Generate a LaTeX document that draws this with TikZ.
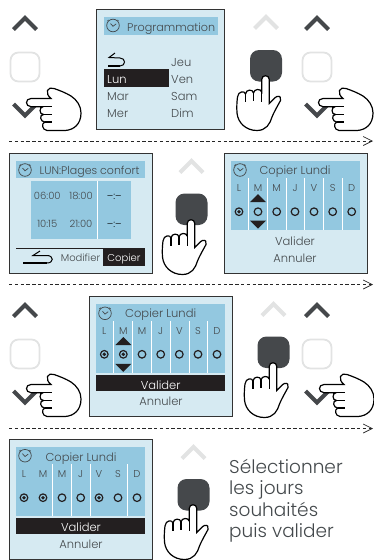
\documentclass[tikz,border=0pt]{standalone}
\usepackage{fontspec}
\setmainfont{Poppins Light}
\usetikzlibrary{arrows.meta}
\definecolor{scr}{HTML}{D6EAF2}
\definecolor{hdr}{HTML}{93C8E0}
\definecolor{ink}{HTML}{44494C}
\definecolor{btn}{HTML}{45484B}
\definecolor{pale}{HTML}{E2E3E3}
\definecolor{bar}{HTML}{231F20}
\tikzset{
  screen/.style={draw=black!80,line width=0.9pt,fill=scr},
  hdrbox/.style={fill=hdr},
  barbox/.style={fill=bar},
  lbl/.style={inner sep=0pt,text=ink,text height=8pt,text depth=0pt,font=\fontsize{11.5}{13}\selectfont},
  lblw/.style={lbl,text=white},
  lblsmall/.style={lbl,text height=7pt,font=\fontsize{10}{12}\selectfont},
  flow/.style={draw=black!85,line width=0.7pt,dash pattern=on 3.4pt off 2.4pt,
    -{Straight Barb[length=9pt,width=9pt,line width=0.7pt]}},
  chevup/.pic={\draw[line width=4pt,draw=btn,miter limit=10] (13.5,29.5)--(25,18)--(36.5,29.5);},
  chevpale/.pic={\draw[line width=4pt,draw=pale,miter limit=10] (13.5,29.5)--(25,18)--(36.5,29.5);},
  chevdown/.pic={\draw[line width=4pt,draw=btn,miter limit=10] (13.5,104)--(25,115.5)--(36.5,104);},
  softkey/.pic={\draw[line width=1.8pt,draw=pale,rounded corners=8pt] (10.5,52.5) rectangle (39.5,81.5);},
  hardkey/.pic={\fill[btn,rounded corners=9pt] (250,50) rectangle (282,81.5);},
  handside/.pic={
    \draw[line width=1.2pt,fill=white,draw=black]
      (31,98.5) -- (51,98.5) .. controls (48,96) and (46.5,93) .. (47.5,90.5)
      .. controls (48.5,88) and (51,87.5) .. (54,88.5)
      .. controls (60,90.5) and (66,93) .. (71,96)
      .. controls (77,100) and (81,106) .. (81,113)
      .. controls (81,124) and (74,130) .. (65,130.5) -- (47,130.5)
      .. controls (42,130) and (41,123) .. (45,122)
      .. controls (40,122) and (39,114.5) .. (43.5,114.5)
      .. controls (39,114.5) and (39,107) .. (43,106.7) -- (31,106.7)
      .. controls (25,106.5) and (25,98.5) .. (31,98.5) -- cycle;
    \draw[line width=1.2pt] (43,106.7)--(52,106.7) (43.5,114.5)--(52,114.5) (45,122)--(52,122);
  },
  handup/.pic={
    \draw[line width=1.2pt,fill=white,draw=black]
      (261.7,92) -- (261.7,79.5) .. controls (261.7,74.5) and (269.3,74.5) .. (269.3,79.5)
      -- (269.3,103.5) .. controls (272,101) and (275,97) .. (277,96.5)
      .. controls (280,95.5) and (281.5,98) .. (280.5,100.5)
      .. controls (277,107) and (274,112) .. (272,117)
      .. controls (270,124) and (266,130.5) .. (257,130.5)
      .. controls (246,130.5) and (238,123) .. (237,113)
      .. controls (236.5,107) and (237,101) .. (237.5,97)
      .. controls (238,91) and (245,90.5) .. (245.5,94)
      .. controls (246,89) and (253,89) .. (253.5,93)
      .. controls (254,88.5) and (261,88.5) .. (261.7,92) -- cycle;
    \draw[line width=1.2pt] (261.7,92)--(261.7,102) (253.5,93)--(253.5,101) (245.5,94)--(245.5,102);
  },
  clockicon/.pic={
    \draw[draw=ink,line width=0.7pt] (0,0) circle (6.3);
    \draw[draw=ink,line width=0.7pt] (-2.5,-2)--(0,0.8)--(3.2,-1.6);
    \draw[draw=ink,line width=0.7pt] (-5.6,-4.4)--(-4.4,-5.6) (5.6,-4.4)--(4.4,-5.6);
  },
  backarrow/.pic={
    \draw[line width=1pt,draw=black] (7,-13)--(1,-8.5)--(12,-8) .. controls (18,-8) and (18,0) .. (12,0);
    \draw[line width=1.8pt,draw=black] (12,0)--(0,0);
  },
  backarrowlong/.pic={
    \draw[line width=1pt,draw=black] (17,-13)--(10,-8.5)--(24,-8.5) .. controls (31,-8.5) and (31,-1) .. (24,-1);
    \draw[line width=1.8pt,draw=black] (24,-1)--(0,-1);
  },
  triup/.pic={\fill[bar] (-8,4)--(0,-4)--(8,4)--cycle;},
  tridown/.pic={\fill[bar] (-8,-4)--(0,4)--(8,-4)--cycle;},
  dot/.pic={\draw[line width=1.2pt,draw=bar] (0,0) circle (3.8);},
  dotset/.pic={\draw[line width=1.2pt,draw=bar] (0,0) circle (3.8); \fill[bar] (0,0) circle (1.9);},
}
\begin{document}
\begin{tikzpicture}[x=1pt,y=-1pt]
\useasboundingbox (0,0) rectangle (373,560);
% ---------- row 1
\pic at (0,0) {chevup}; \pic at (0,0) {softkey}; \pic at (0,0) {chevdown}; \pic at (0,0) {handside};
\path[screen] (96.7,9) rectangle (224.7,129.3);
\path[hdrbox] (104,17.3) rectangle (218,35);
\pic at (113,25.5) {clockicon};
\node[lbl,anchor=west,font=\fontsize{11.2}{13}\selectfont] (t1) at (127,27) {Programmation};
\pic at (108,66) {backarrow};
\path[barbox] (104,69) rectangle (169,87);
\node[lblw,anchor=west] (lun) at (107,79) {Lun};
\node[lbl,anchor=west] (mar) at (107,96) {Mar};
\node[lbl,anchor=west] (mer) at (107,113) {Mer};
\node[lbl,anchor=west] (jeu) at (171,62) {Jeu};
\node[lbl,anchor=west] (ven) at (171,79) {Ven};
\node[lbl,anchor=west] (sam) at (171,96) {Sam};
\node[lbl,anchor=west] (dim) at (171,113) {Dim};
\pic at (241,-1) {chevpale}; \pic at (0,0) {hardkey}; \pic at (0,0) {handup};
\pic at (292,0) {chevup}; \pic at (292,0) {softkey}; \pic at (292,0) {chevdown}; \pic at (292,0) {handside};
\coordinate (f1a) at (9,141); \coordinate (f1b) at (373,141);
\draw[flow] (f1a) -- (f1b);
% ---------- row 2
\path[screen] (9.3,153.3) rectangle (152.3,273.3);
\path[hdrbox] (16,161) rectangle (145,178.3);
\pic at (25,170) {clockicon};
\node[lbl,anchor=west,font=\fontsize{11}{13}\selectfont] (t2) at (39.5,170.3) {LUN:Plages confort};
\path[hdrbox] (31,181) rectangle (131,239);
\draw[white,line width=0.8pt] (97.7,181)--(97.7,239);
\node[lblsmall] (a1) at (47.3,195.8) {06:00};
\node[lblsmall] (a2) at (81,195.8) {18:00};
\node[lblsmall] (a3) at (47.3,224.2) {10:15};
\node[lblsmall] (a4) at (81,224.2) {21:00};
\node[lblsmall,text=black] (a5) at (114.3,195.8) {–:–};
\node[lblsmall,text=black] (a6) at (114.3,224.2) {–:–};
\draw[bar,line width=0.9pt] (16,248.3)--(145,248.3);
\path[barbox] (103,248) rectangle (145,265.7);
\node[lblsmall] (modif) at (80.5,258) {Modifier};
\node[lblsmall,text=white] (copier) at (124,258) {Copier};
\pic at (23,264) {backarrowlong};
\pic at (166.5,143) {chevpale};
\pic at (-74.5,143.5) {hardkey}; \pic at (-74.5,144) {handup};
\path[screen] (224,153.3) rectangle (367.7,273.3);
\path[hdrbox] (231,161) rectangle (360,230);
\pic at (240,170) {clockicon};
\node[lbl] (t3) at (295,170.5) {Copier Lundi};
\foreach \x in {248.3,267.3,286,304.3,323.3,342.3} \draw[white,line width=0.6pt] (\x,178)--(\x,230);
\foreach \x/\l/\n in {239/L/a,258/M/b,276.7/M/c,295/J/d,314/V/e,332.7/S/f,351.7/D/g}
  \node[lblsmall] (c\n) at (\x,188.2) {\l};
\pic at (239,211.7) {dotset};
\foreach \x in {258,276.7,295,314,332.7,351.7} \pic at (\x,211.7) {dot};
\pic at (258,198) {triup}; \pic at (258,224.7) {tridown};
\node[lbl] (v3) at (295,241) {Valider};
\node[lbl] (x3) at (295,258) {Annuler};
\coordinate (f2a) at (9,284.5); \coordinate (f2b) at (373,284.5);
\draw[flow] (f2a) -- (f2b);
% ---------- row 3
\pic at (0,287) {chevup}; \pic at (0,287) {softkey}; \pic at (0,287) {chevdown}; \pic at (0,286) {handside};
\path[screen] (89.3,296.7) rectangle (232.3,416.7);
\path[hdrbox] (96,304) rectangle (225,373.3);
\pic at (105,313.3) {clockicon};
\node[lbl] (t4) at (160.7,313.7) {Copier Lundi};
\foreach \x in {113.3,132.7,151.7,170.3,189,207.7} \draw[white,line width=0.6pt] (\x,321)--(\x,373);
\foreach \x/\l/\n in {104.3/L/a,123.3/M/b,142/M/c,160.7/J/d,179.3/V/e,198/S/f,217/D/g}
  \node[lblsmall] (e\n) at (\x,331) {\l};
\pic at (104.3,354.3) {dotset}; \pic at (123.3,354.3) {dotset};
\foreach \x in {142,160.7,179.3,198,217} \pic at (\x,354.3) {dot};
\pic at (123.3,341) {triup}; \pic at (123.3,367.8) {tridown};
\path[barbox] (96,375) rectangle (225,391);
\node[lblw] (v4) at (160.7,385) {Valider};
\node[lbl] (x4) at (161,401.7) {Annuler};
\pic at (248.5,286) {chevpale};
\pic at (7.5,286.5) {hardkey}; \pic at (7.5,287) {handup};
\pic at (292,287) {chevup}; \pic at (292,287) {softkey}; \pic at (292,287) {chevdown}; \pic at (293,286) {handside};
\coordinate (f3a) at (9,428.5); \coordinate (f3b) at (373,428.5);
\draw[flow] (f3a) -- (f3b);
% ---------- row 4
\path[screen] (9.3,439.3) rectangle (152.3,559.3);
\path[hdrbox] (16,447) rectangle (145,515.7);
\pic at (25,455.7) {clockicon};
\node[lbl] (t5) at (81,457) {Copier Lundi};
\foreach \x in {52.3,71.7,90.7,127.3} \draw[white,line width=0.6pt] (\x,464)--(\x,515.7);
\foreach \x/\l/\n in {24/L/a,43/M/b,62/M/c,80.7/J/d,99/V/e,118/S/f,137/D/g}
  \node[lblsmall] (g\n) at (\x,474.3) {\l};
\pic at (24,497.7) {dotset}; \pic at (43,497.7) {dotset}; \pic at (99,497.7) {dotset};
\foreach \x in {62,80.7,118,137} \pic at (\x,497.7) {dot};
\path[barbox] (16,518) rectangle (145,534);
\node[lblw] (v5) at (81,527) {Valider};
\node[lbl] (x5) at (81,544) {Annuler};
\pic at (168.5,429) {chevpale};
\pic at (-72.5,429) {hardkey}; \pic at (-72.5,429) {handup};
\node[inner sep=0pt,anchor=north west,align=left,text=ink,font=\fontsize{18.5}{21.4}\selectfont] (note) at (229,459)
  {Sélectionner\\les jours\\souhaités\\puis valider};
\end{tikzpicture}
\end{document}
